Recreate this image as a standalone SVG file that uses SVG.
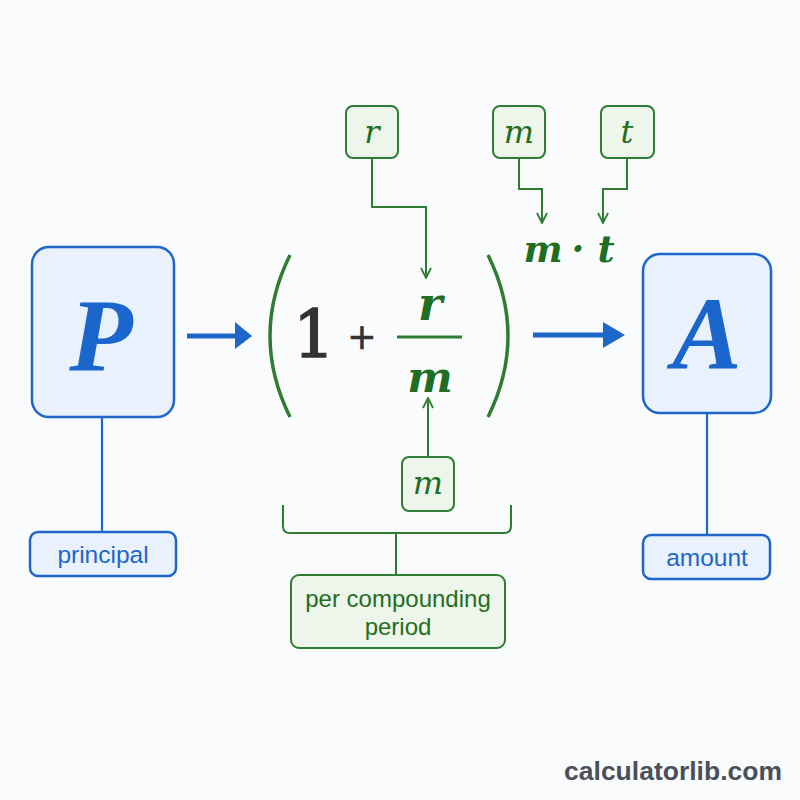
<svg xmlns="http://www.w3.org/2000/svg" width="800" height="800" viewBox="0 0 800 800">
<defs>
<style>
.bbox{fill:#e9f1fc;stroke:#1f66c9;stroke-width:2.5}
.gbox{fill:#eef5ea;stroke:#2e7d32;stroke-width:2}
.bline{stroke:#1f66c9;stroke-width:2.2;fill:none}
.gline{stroke:#2e7d32;stroke-width:2;fill:none}
.big{font-family:"Liberation Serif","DejaVu Serif",serif;font-style:italic;font-weight:bold;fill:#1a66cc;text-anchor:middle}
.var{font-family:"DejaVu Serif","Liberation Serif",serif;font-style:italic;fill:#1f6e23;text-anchor:middle}
.lbl{font-family:"Liberation Sans","DejaVu Sans",sans-serif;text-anchor:middle}
</style>
<marker id="ga" viewBox="0 0 12 12" refX="11" refY="6" markerWidth="12" markerHeight="12" markerUnits="userSpaceOnUse" orient="auto">
<path d="M1,1 L11,6 L1,11" fill="none" stroke="#2e7d32" stroke-width="1.8"/>
</marker>
</defs>
<rect width="800" height="800" fill="#fafbfc"/>

<g id="connectors">
<line class="bline" x1="102" y1="417" x2="102" y2="532"/>
<line class="bline" x1="707" y1="413" x2="707" y2="535"/>
<line x1="187" y1="336" x2="237" y2="336" stroke="#1f66c9" stroke-width="5"/>
<polygon points="235,322 252,336 235,349" fill="#1f66c9"/>
<line x1="533" y1="335" x2="605" y2="335" stroke="#1f66c9" stroke-width="5"/>
<polygon points="603,322 625,335 603,348" fill="#1f66c9"/>
<path class="gline" d="M372,158 V207 H426 V278" marker-end="url(#ga)"/>
<path class="gline" d="M519,158 V189 H542 V223" marker-end="url(#ga)"/>
<path class="gline" d="M627,158 V189 H603 V223" marker-end="url(#ga)"/>
<path class="gline" d="M428,457 V398" marker-end="url(#ga)"/>
<path class="gline" d="M283,505 V526 Q283,533 290,533 H504 Q511,533 511,526 V505"/>
<line class="gline" x1="396" y1="533" x2="396" y2="575"/>
</g>

<g id="node-P">
<rect class="bbox" x="32" y="247" width="142" height="170" rx="17"/>
<text class="big" x="101" y="371" font-size="104">P</text>
</g>
<g id="node-principal">
<rect class="bbox" x="30" y="532" width="146" height="44" rx="8" stroke-width="2"/>
<text class="lbl" x="103" y="563" font-size="24.5" fill="#1f66c9">principal</text>
</g>

<g id="node-formula">
<path d="M290,255 Q250,336 290,417" fill="none" stroke="#2e7d32" stroke-width="3.5"/>
<path d="M488,255 Q528,336 488,417" fill="none" stroke="#2e7d32" stroke-width="3.5"/>
<text x="314" y="357" font-family="DejaVu Serif, Liberation Serif, serif" font-size="66" fill="#333" stroke="#333" stroke-width="1.6" text-anchor="middle">1</text>
<text x="362" y="349" font-family="DejaVu Sans, Liberation Sans, sans-serif" font-size="35" fill="#333" stroke="#333" stroke-width="0.6" text-anchor="middle">+</text>
<line x1="397" y1="337" x2="462" y2="337" stroke="#2e7d32" stroke-width="3"/>
<text class="var" x="430" y="320" font-size="46" font-weight="bold">r</text>
<text class="var" x="430" y="392" font-size="43" font-weight="bold">m</text>
</g>

<g id="node-r">
<rect class="gbox" x="346" y="106" width="52" height="52" rx="7"/>
<text class="var" x="372" y="143" font-size="32">r</text>
</g>
<g id="node-m-top">
<rect class="gbox" x="493" y="106" width="52" height="52" rx="7"/>
<text class="var" x="519" y="143" font-size="32">m</text>
</g>
<g id="node-t">
<rect class="gbox" x="601" y="106" width="53" height="52" rx="7"/>
<text class="var" x="627" y="143" font-size="32">t</text>
</g>
<g id="node-mt">
<text class="var" y="262" font-size="37" font-weight="bold" fill="#1b6b1f"><tspan x="543">m</tspan><tspan x="578">·</tspan><tspan x="606">t</tspan></text>
</g>
<g id="node-m-bottom">
<rect class="gbox" x="402" y="457" width="52" height="54" rx="7"/>
<text class="var" x="428" y="494" font-size="32">m</text>
</g>
<g id="node-period">
<rect class="gbox" x="291" y="575" width="214" height="73" rx="8"/>
<text class="lbl" x="398" y="607" font-size="24" fill="#1f6e23">per compounding</text>
<text class="lbl" x="398" y="635" font-size="24" fill="#1f6e23">period</text>
</g>

<g id="node-A">
<rect class="bbox" x="643" y="254" width="128" height="159" rx="17"/>
<text class="big" x="707" y="369" font-size="104">A</text>
</g>
<g id="node-amount">
<rect class="bbox" x="643" y="535" width="127" height="44" rx="8" stroke-width="2"/>
<text class="lbl" x="707" y="566" font-size="24.5" fill="#1f66c9">amount</text>
</g>

<text x="782" y="780" font-family="Liberation Sans, DejaVu Sans, sans-serif" font-weight="bold" font-size="26.5" fill="#4a4f5a" text-anchor="end">calculatorlib.com</text>
</svg>
